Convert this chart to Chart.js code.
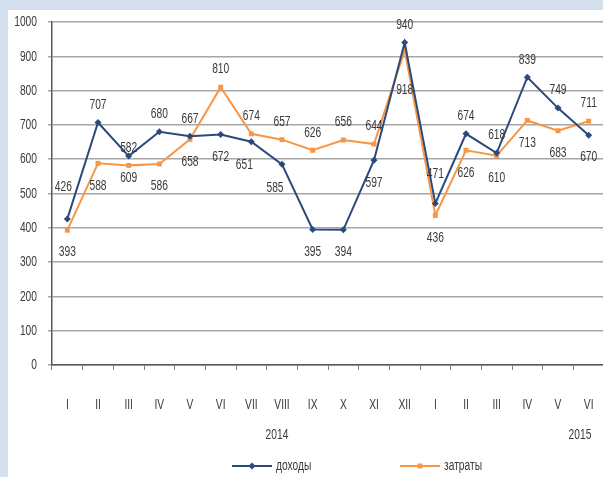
<!DOCTYPE html>
<html>
<head>
<meta charset="utf-8">
<script src="https://cdn.jsdelivr.net/npm/chart.js@4"></script>
<style>
  html, body { margin: 0; padding: 0; width: 603px; height: 477px; overflow: hidden; background: #d5e0ef; }
  #wrap { position: absolute; left: 8px; top: 10px; width: 600px; height: 467px; background: #fff; }
</style>
</head>
<body>
<div id="wrap"><canvas id="chart" width="600" height="467"></canvas></div>
<script>
const months = ["I", "II", "III", "IV", "V", "VI", "VII", "VIII", "IX", "X", "XI", "XII", "I", "II", "III", "IV", "V", "VI"];
const income = [426, 707, 609, 680, 667, 672, 651, 585, 395, 394, 597, 940, 471, 674, 618, 839, 749, 670];
const costs = [393, 588, 582, 586, 658, 810, 674, 657, 626, 656, 644, 918, 436, 626, 610, 713, 683, 711];
const yTicks = [0, 100, 200, 300, 400, 500, 600, 700, 800, 900, 1000];
const years = ["2014", "2015"];

// where each value label sits relative to its point
const incomeSide = ["ul", "u", "d", "u", "u", "d", "dl", "dl", "d", "d", "d", "u", "uu", "u", "u", "u", "u", "d"];
const costsSide = ["d", "d", "u", "d", "d", "u", "u", "u", "u", "u", "u", "dd", "d", "d", "d", "d", "d", "u"];
const sideOff = {
    u: [0, -18], uu: [0, -30], ul: [-4, -32],
    d: [0, 22], dd: [0, 40], dl: [-7, 23]
};

const FONT = "'Liberation Sans', Arial, sans-serif";
const BLUE = "#2a4a7c";
const ORANGE = "#f79646";
const TXT = "#3a3a3a";

// condensed text, like the narrow font of the original
function narrowText(ctx, text, x, y, align) {
    ctx.save();
    ctx.translate(x, y);
    ctx.scale(0.66, 1);
    ctx.textAlign = align || "center";
    ctx.fillText(text, 0, 0);
    ctx.restore();
}

const extras = {
    id: "extras",
    afterDraw(chart) {
        const ctx = chart.ctx;
        ctx.save();
        ctx.font = "15.5px " + FONT;
        ctx.fillStyle = TXT;
        ctx.textBaseline = "middle";

        // axis labels
        const xs = chart.scales.x;
        const ys = chart.scales.y;
        xs.ticks.forEach((t, i) => narrowText(ctx, months[i], xs.getPixelForTick(i), 395));
        ys.ticks.forEach(t => narrowText(ctx, String(t.value), ys.left + 29, ys.getPixelForValue(t.value), "right"));

        // value labels
        const sides = [incomeSide, costsSide];
        chart.data.datasets.forEach((ds, i) => {
            chart.getDatasetMeta(i).data.forEach((pt, j) => {
                const off = sideOff[sides[i][j]];
                narrowText(ctx, String(ds.data[j]), pt.x + off[0], pt.y + off[1]);
            });
        });

        // years under the month labels
        narrowText(ctx, years[0], 269, 425);
        narrowText(ctx, years[1], 572, 425);

        // legend
        const ly = 456;
        const items = [
            { x: 224, label: "доходы", color: BLUE, style: "rectRot" },
            { x: 392, label: "затраты", color: ORANGE, style: "rect" }
        ];
        items.forEach(it => {
            ctx.strokeStyle = it.color;
            ctx.lineWidth = 2;
            ctx.beginPath();
            ctx.moveTo(it.x, ly);
            ctx.lineTo(it.x + 40, ly);
            ctx.stroke();
            ctx.fillStyle = it.color;
            Chart.helpers.drawPoint(ctx, { pointStyle: it.style, radius: 3.5, borderWidth: 0 }, it.x + 20, ly);
            ctx.fillStyle = TXT;
            narrowText(ctx, it.label, it.x + 44, ly, "left");
        });
        ctx.restore();
    }
};

new Chart(document.getElementById("chart"), {
    type: "line",
    data: {
        labels: months,
        datasets: [
            {
                label: "доходы",
                data: income,
                borderColor: BLUE,
                backgroundColor: BLUE,
                borderWidth: 2,
                tension: 0,
                pointStyle: "rectRot",
                pointRadius: 3.5,
                pointBorderWidth: 0
            },
            {
                label: "затраты",
                data: costs,
                borderColor: ORANGE,
                backgroundColor: ORANGE,
                borderWidth: 2,
                tension: 0,
                pointStyle: "rect",
                pointRadius: 3.5,
                pointBorderWidth: 0
            }
        ]
    },
    options: {
        responsive: false,
        animation: false,
        layout: { padding: { top: 12, left: 0, right: 0, bottom: 0 } },
        plugins: { legend: { display: false }, tooltip: { enabled: false } },
        scales: {
            x: {
                offset: true,
                afterFit(scale) { scale.height = 112; scale.paddingLeft = 0; scale.paddingRight = 0; },
                grid: { offset: true, drawOnChartArea: false, drawTicks: true, tickLength: 5, color: "#7f7f7f" },
                border: { color: "#595959", width: 1.5 },
                ticks: { display: false, autoSkip: false }
            },
            y: {
                min: 0,
                max: 1000,
                afterFit(scale) { scale.width = 44; scale.paddingTop = 0; scale.paddingBottom = 0; },
                afterBuildTicks(scale) { scale.ticks = yTicks.map(v => ({ value: v })); },
                grid: { color: "#a6a6a6", lineWidth: 1.5, tickLength: 4 },
                border: { color: "#595959", width: 1.5 },
                ticks: { display: false }
            }
        }
    },
    plugins: [extras]
});
</script>
</body>
</html>
